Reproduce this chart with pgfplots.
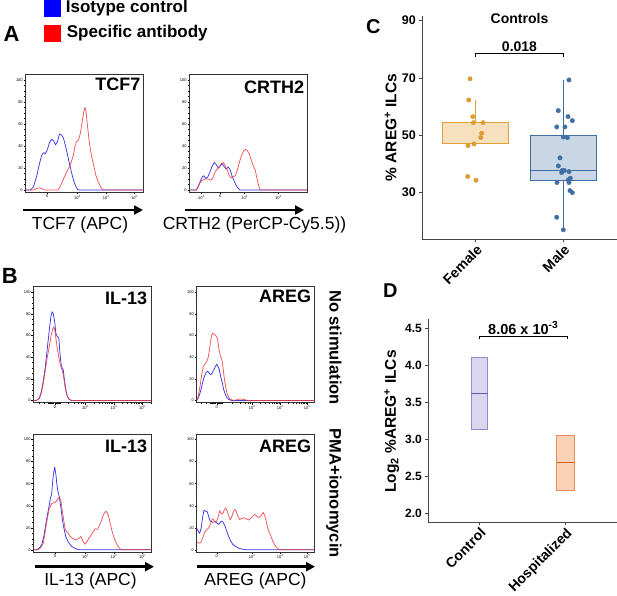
\documentclass[border=0pt]{standalone}
\usepackage{fontspec}
\setmainfont{Liberation Sans}
\usepackage{pgfplots}
\pgfplotsset{compat=1.18}
\usepgfplotslibrary{statistics}
\usetikzlibrary{arrows.meta}

\definecolor{isoblue}{RGB}{55,55,235}
\definecolor{specred}{RGB}{235,55,55}
\definecolor{femaleedge}{RGB}{225,160,55}
\definecolor{femalefill}{RGB}{247,224,190}
\definecolor{femalept}{RGB}{222,155,50}
\definecolor{maleedge}{RGB}{65,110,160}
\definecolor{malefill}{RGB}{200,214,230}
\definecolor{malept}{RGB}{65,110,165}
\definecolor{ctrledge}{RGB}{150,140,205}
\definecolor{ctrlfill}{RGB}{218,214,238}
\definecolor{ctrlmed}{RGB}{100,90,180}
\definecolor{hospedge}{RGB}{232,140,90}
\definecolor{hospfill}{RGB}{249,210,183}
\definecolor{hospmed}{RGB}{210,95,25}
\definecolor{axgray}{RGB}{70,70,70}

\newcommand\fs[1]{\fontsize{#1}{#1}\selectfont}
\newcommand\ts[1]{\textsuperscript{#1}}

\tikzset{ptitle/.style={anchor=north east, inner sep=0pt, font=\bfseries\fs{18}}}

\pgfplotsset{
  flow/.style={
    scale only axis, width=118pt, height=117pt, anchor=north west,
    xmin=0, xmax=118, ymin=-2, ymax=105,
    ytick={0,20,40,60,80,100}, minor y tick num=3,
    tick align=outside, xtick pos=bottom, ytick pos=left,
    major tick length=1.8pt, minor tick length=1.1pt,
    tick style={black, line width=0.35pt},
    minor tick style={black, line width=0.35pt},
    ticklabel style={font=\fs{4}, inner sep=0.8pt},
    /pgf/number format/assume math mode=true,
    axis line style={line width=0.5pt, black!80},
    every axis plot/.append style={line width=0.75pt, line join=round, no markers},
  },
  leftx/.style={xtick={21.7,52,80.6,109},
    xticklabels={0,10\ts{3},10\ts{4},10\ts{5}},
    minor xtick={6,11,14.5,16,17,18,19,20,23,24,25,26,27,35,41,45,48,50,60.6,65.6,69.2,71.9,74.2,76.1,77.7,79.2,89.2,94.2,97.8,100.5,102.8,104.7,106.3,107.8,117.6}},
  rightx/.style={xtick={20,55.5,83.5,110.5},
    xticklabels={0,10\ts{3},10\ts{4},10\ts{5}},
    minor xtick={4,9,13,14,15,16,17,18,21.5,22.5,23.5,24.5,25.5,35,43,48,51,53.5,63.9,68.9,72.4,75.1,77.3,79.2,80.8,82.2,91.6,96.4,99.8,102.4,104.5,106.3,107.9,109.3}},
  crthx/.style={xtick={11.5,31,55.3,89},
    xticklabels={-10\ts{3},0,10\ts{3},10\ts{4}},
    minor xtick={5,20,26,27,28,29,30,32,33,34,35,44,49,52,65.4,71.4,75.6,78.9,81.5,83.8,85.7,87.4,99.1,105.1,109.3,112.6,115.2,117.5}},
  iso/.style={draw=isoblue},
  spec/.style={draw=specred, opacity=0.85},
  box/.style={
    scale only axis, anchor=south west,
    axis x line=bottom, axis y line=left,
    axis line style={-, draw=axgray, line width=0.8pt},
    tick align=outside, major tick length=3pt,
    tick style={axgray, line width=0.8pt},
    xtick={1,2},
    /pgf/number format/assume math mode=true,
    xticklabel style={font=\bfseries\fs{14}, rotate=45, anchor=north east, inner sep=1pt},
    ylabel style={font=\bfseries\fs{15.5}, anchor=center},
    boxplot/draw direction=y,
    clip=false,
  },
}

\begin{document}
\begin{tikzpicture}[x=1pt,y=1pt]
\path[use as bounding box] (0,0) rectangle (617,595);

% legend and panel letters
\fill[blue] (44.3,578.3) rectangle (61,595);
\fill[red] (44.3,553.3) rectangle (61,570);
\node[anchor=base west, inner sep=0pt, font=\bfseries\fs{17}] at (65.7,582.3) {Isotype control};
\node[anchor=base west, inner sep=0pt, font=\bfseries\fs{17}] at (66.7,557.7) {Specific antibody};
\node[anchor=base west, inner sep=0pt, font=\bfseries\fs{22}] at (3.3,553.3) {A};
\node[anchor=base west, inner sep=0pt, font=\bfseries\fs{22}] at (1.7,311.7) {B};
\node[anchor=base west, inner sep=0pt, font=\bfseries\fs{20}] at (366,561.7) {C};
\node[anchor=base west, inner sep=0pt, font=\bfseries\fs{20}] at (383,297.7) {D};

% ---- A: TCF7
\begin{axis}[flow, leftx, at={(25.5pt,520.7pt)}, height=118pt]
\addplot[iso] coordinates {(0,0) (5,0) (8,3) (11,12) (14,24) (16,31) (18,34) (20,33) (22,37) (24,43) (26,46) (28,45) (30,41) (32,44) (34,51) (36,50) (38,47) (40,40) (42,32) (44,24) (46,16) (48,9) (50,4) (52,0.5) (54,0) (118,0)};
\addplot[spec] coordinates {(0,0) (8,0) (11,1.5) (14,2) (17,1) (19,0) (32,0) (34,2) (36,6) (38,10) (40,14) (42,18) (44,21) (46,26) (48,32) (49.5,40) (51,44) (53,45) (55,52) (57,64) (58.5,72) (59.5,75) (60.5,71) (62,58) (64,42) (66,31) (68.3,22) (70.5,13) (72.8,7.5) (75,3) (77,0.5) (79,0) (118,0)};
\node[ptitle, xshift=-3pt, yshift=-3.5pt] at (rel axis cs:1,1) {TCF7};
\end{axis}

% ---- A: CRTH2
\begin{axis}[flow, crthx, at={(189.3pt,520.7pt)}, height=118pt]
\addplot[iso] coordinates {(0,0) (7,0) (9,3) (11,8) (13,12) (14.5,13) (16.5,10.5) (18.5,12) (20.5,16) (22.5,21) (25,25) (27,23) (29,20) (31,22) (33,24) (35,21) (37,19) (39,21) (41,18) (43,12) (45,8) (47,4) (49,1.5) (51,0) (118,0)};
\addplot[spec] coordinates {(0,0) (7,0) (9,4) (11,7) (13,9) (16,10) (19,10) (22,9) (24,12) (26,17) (28,19) (30,21) (32,24) (34,25) (36,22) (38,18) (40,13) (42,11) (44,12) (46,13) (48,18) (50,25) (52,31) (54,35) (56,37) (58,36) (60,33) (62,27) (64,22) (66,18) (68,9) (70,2) (71,0) (118,0)};
\node[ptitle, xshift=-3pt, yshift=-6pt] at (rel axis cs:1,1) {CRTH2};
\end{axis}

% ---- B: IL-13, no stimulation
\begin{axis}[flow, leftx, at={(33.3pt,308.3pt)}, height=116pt]
\addplot[iso] coordinates {(0,0) (3,0) (6,2) (8,8) (10,18) (12,31) (14,48) (16,65) (17.5,77) (18.8,82) (20,80) (21.5,72) (22.5,62) (24,59) (25.5,58) (26.5,45) (28,32) (30,28) (31,20) (32.5,10) (34,4) (36,1) (38,0) (118,0)};
\addplot[spec] coordinates {(0,0) (3,0) (6,2) (8,7) (10,16) (12,28) (14,40) (16,50) (18,61) (19.5,66) (20.5,68) (21.5,65) (22.5,58) (24,48) (25.5,40) (27,33) (28.5,29) (30,24) (31.5,14) (33,7) (34.5,3) (36,1) (39,0) (118,0)};
\node[ptitle, xshift=-4pt, yshift=-5pt] at (rel axis cs:1,1) {IL-13};
\end{axis}

% ---- B: AREG, no stimulation
\begin{axis}[flow, rightx, at={(196.7pt,308.3pt)}, height=116pt]
\addplot[iso] coordinates {(0,0) (2,3) (4,9) (6,17) (7.6,22) (9.5,26) (11,27) (13,24.5) (14.5,24) (16.5,27) (18.5,31) (20,33.5) (21.5,31) (22.6,28.5) (24,22) (25.7,16) (27,10) (28.5,6) (30,3) (32,1) (35,0) (118,0)};
\addplot[spec] coordinates {(0,0) (1.5,4) (3.3,13) (5,24) (6.5,31) (8.3,34) (10,36) (11,38) (12.3,44) (13.5,52) (14.8,60) (15.8,62) (17,61.5) (18.5,60.5) (20,59) (21,56) (22.3,47) (23.5,42) (25,38.5) (26,33) (27,25) (28,18) (29,12.5) (30.5,6) (32,3) (34,1) (36,0.3) (40,0.5) (43,1.5) (46,1.2) (49,0.5) (52,0) (118,0)};
\node[ptitle, xshift=-3.3pt, yshift=-2.6pt] at (rel axis cs:1,1) {AREG};
\end{axis}

% ---- B: IL-13, PMA+ionomycin
\begin{axis}[flow, leftx, at={(33.3pt,161pt)}, height=118pt]
\addplot[iso] coordinates {(0,0) (3.4,0) (6,1.5) (8.4,4.5) (10.5,12) (12.4,22.5) (14,31) (15.7,39) (17,46) (18.4,51) (19.2,60) (20,67.6) (21.4,75) (22.7,67.6) (23.5,60) (24.4,54) (26,48) (27.7,37.5) (29,28) (30,22.5) (32.4,12) (35,7) (38.4,3) (43.4,0.6) (46.7,0) (118,0)};
\addplot[spec] coordinates {(0,0) (5,0) (7.5,2) (10,6) (11.7,15) (13.4,25.5) (16,37.5) (18.4,42) (20,42.5) (21.7,43) (23.7,45) (26,48) (27.7,44) (29.4,33) (31.7,19.5) (33.5,16) (35,15) (37,12) (39,10.5) (41,9.5) (43.4,9) (45.5,10.5) (47.7,12) (49.5,8) (51.7,5) (53.7,7.5) (55.7,10.5) (57.5,13) (59,15) (61.7,19) (64.4,18.6) (66,22) (67.7,25.5) (70,31.5) (72.4,35) (74,33.5) (75,31.5) (76.7,25) (78.4,18) (80,13) (81.7,9) (83.3,5.5) (85,3) (86.7,1) (88.4,0) (118,0)};
\node[ptitle, xshift=-4pt, yshift=-6pt] at (rel axis cs:1,1) {IL-13};
\end{axis}

% ---- B: AREG, PMA+ionomycin
\begin{axis}[flow, rightx, at={(196.7pt,161pt)}, height=118pt]
\addplot[iso] coordinates {(0.3,19) (1.5,17) (3,15) (4.5,20) (6,30) (7.3,36) (9,35) (10.6,34.5) (12,30) (13.5,26) (16,25) (18.5,25.5) (20.5,24) (22,23) (24,25.5) (25.5,26) (27,24) (28.5,21) (30,17) (32,12) (34,8) (36,5) (39,3) (42,1.5) (46,0.5) (50,0) (118,0)};
\addplot[spec] coordinates {(0.3,7) (2,6) (4,6.5) (6,11) (8,16) (10,18) (12,20) (14,24) (15.5,28) (17,27) (18.5,25) (20,26) (21.5,30) (23,35.5) (24.5,33) (26,32.5) (27.5,36) (29,38) (30.5,35) (32,31) (33.5,27) (35,30) (36.5,34) (38,36.5) (39.5,35) (41,31) (43,27.5) (45,28.5) (47.5,29) (50,28) (52,27) (54,28.5) (56.5,31) (58.5,32) (60.5,30) (62.5,29.5) (64.5,31) (66.5,34) (68,31) (69.5,26) (71,20) (72.5,16) (74,13) (76,8) (78,4.5) (80,2) (82,0.5) (84,0) (118,0)};
\node[ptitle, xshift=-3.3pt, yshift=-6pt] at (rel axis cs:1,1) {AREG};
\end{axis}

% arrows and axis labels of the histograms
\draw[line width=2.8pt, -{Triangle[length=9pt,width=9pt]}] (23,385) -- (143,385);
\draw[line width=2.8pt, -{Triangle[length=9pt,width=9pt]}] (185,385) -- (304,385);
\draw[line width=2.8pt, -{Triangle[length=9pt,width=9pt]}] (35,28.3) -- (154,28.3);
\draw[line width=2.8pt, -{Triangle[length=9pt,width=9pt]}] (196.7,28.3) -- (315,28.3);
\node[anchor=base, inner sep=0pt, font=\fs{17.5}] at (80,365.8) {TCF7 (APC)};
\node[anchor=base, inner sep=0pt, font=\fs{17.5}] at (254.5,365.8) {CRTH2 (PerCP-Cy5.5))};
\node[anchor=base, inner sep=0pt, font=\fs{17.5}] at (90.5,9.2) {IL-13 (APC)};
\node[anchor=base, inner sep=0pt, font=\fs{17.5}] at (255.5,9.2) {AREG (APC)};
\node[rotate=-90, anchor=base, inner sep=0pt, font=\bfseries\fs{16.5}] at (329.5,247.5) {No stimulation};
\node[rotate=-90, anchor=base, inner sep=0pt, font=\bfseries\fs{16.5}] at (329.5,101.7) {PMA+ionomycin};

% ---- C: controls by sex
\node[anchor=base, inner sep=0pt, font=\bfseries\fs{14}] at (519.5,571.7) {Controls};
\begin{axis}[box, at={(422.3pt,355.7pt)}, width=194.4pt, height=223.3pt,
  xmin=0.39, xmax=2.61, ymin=13.7, ymax=91.6,
  xticklabels={Female,Male},
  ytick={30,50,70,90},
  yticklabel style={font=\bfseries\fs{12.5}},
  ylabel={\% AREG\ts{+} ILCs},
  ylabel style={at={(axis description cs:-0.163,0.5)}},
]
\addplot[boxplot prepared={draw position=1, lower whisker=46.4, lower quartile=47.3,
  median=54.3, upper quartile=54.5, upper whisker=62.2, box extend=0.75, whisker extend=0},
  draw=femaleedge, fill=femalefill, line width=0.9pt] coordinates {};
\addplot[boxplot prepared={draw position=2, lower whisker=17.0, lower quartile=34.4,
  median=37.6, upper quartile=50.1, upper whisker=69.1, box extend=0.76, whisker extend=0},
  draw=maleedge, fill=malefill, line width=0.9pt] coordinates {};
\addplot[only marks, mark=*, mark size=2.2pt, color=femalept] coordinates {
  (0.935,69.7) (0.92,62.3) (0.966,56.5) (0.973,54.4) (1.083,54.4) (1.068,50.7)
  (1.057,49.2) (0.98,47.0) (0.912,46.4) (0.909,35.6) (1.003,34.3)};
\addplot[only marks, mark=*, mark size=2.2pt, color=malept] coordinates {
  (2.065,69.3) (1.943,58.6) (2.054,56.5) (2.103,55.1) (1.925,52.9) (2.019,52.9)
  (2.0,49.4) (2.046,49.2) (1.962,42.1) (1.943,39.3) (1.989,37.7) (2.011,37.7)
  (2.065,37.3) (1.982,37.0) (2.08,35.0) (2.057,34.4) (1.928,33.5) (2.065,33.5)
  (2.076,30.7) (2.103,30.0) (1.925,21.4) (2.0,17.0)};
\draw[line width=0.8pt] (axis cs:1,77.25) -- (axis cs:1,78.4) -- (axis cs:2,78.4) -- (axis cs:2,77.25);
\node[anchor=south, inner sep=1.5pt, font=\bfseries\fs{14}] at (axis cs:1.5,78.4) {0.018};
\end{axis}

% ---- D: control vs hospitalized
\begin{axis}[box, at={(428.3pt,72.7pt)}, width=188.7pt, height=203pt,
  xmin=0.407, xmax=2.6, ymin=1.878, ymax=4.62,
  xticklabels={Control,Hospitalized},
  ytick={2,2.5,3,3.5,4,4.5},
  yticklabel style={font=\bfseries\fs{12}, /pgf/number format/fixed,
    /pgf/number format/fixed zerofill, /pgf/number format/precision=1},
  ylabel={Log\textsubscript{2} \%AREG\ts{+} ILCs},
  ylabel style={at={(axis description cs:-0.194,0.496)}},
]
\addplot[boxplot prepared={draw position=1, lower whisker=3.135, lower quartile=3.135,
  median=3.62, upper quartile=4.108, upper whisker=4.108, box extend=0.195, whisker extend=0,
  every box/.style={draw=ctrledge, fill=ctrlfill, line width=0.8pt}},
  draw=ctrlmed, line width=1.3pt] coordinates {};
\addplot[boxplot prepared={draw position=2, lower whisker=2.306, lower quartile=2.306,
  median=2.684, upper quartile=3.058, upper whisker=3.058, box extend=0.2, whisker extend=0,
  every box/.style={draw=hospedge, fill=hospfill, line width=0.8pt}},
  draw=hospmed, line width=1.3pt] coordinates {};
\draw[line width=0.8pt] (axis cs:1,4.351) -- (axis cs:1,4.387) -- (axis cs:2.023,4.387) -- (axis cs:2.023,4.351);
\node[anchor=south, inner sep=2pt, font=\bfseries\fs{14.5}] at (axis cs:1.51,4.387) {8.06 x 10\ts{-3}};
\end{axis}
\end{tikzpicture}
\end{document}
